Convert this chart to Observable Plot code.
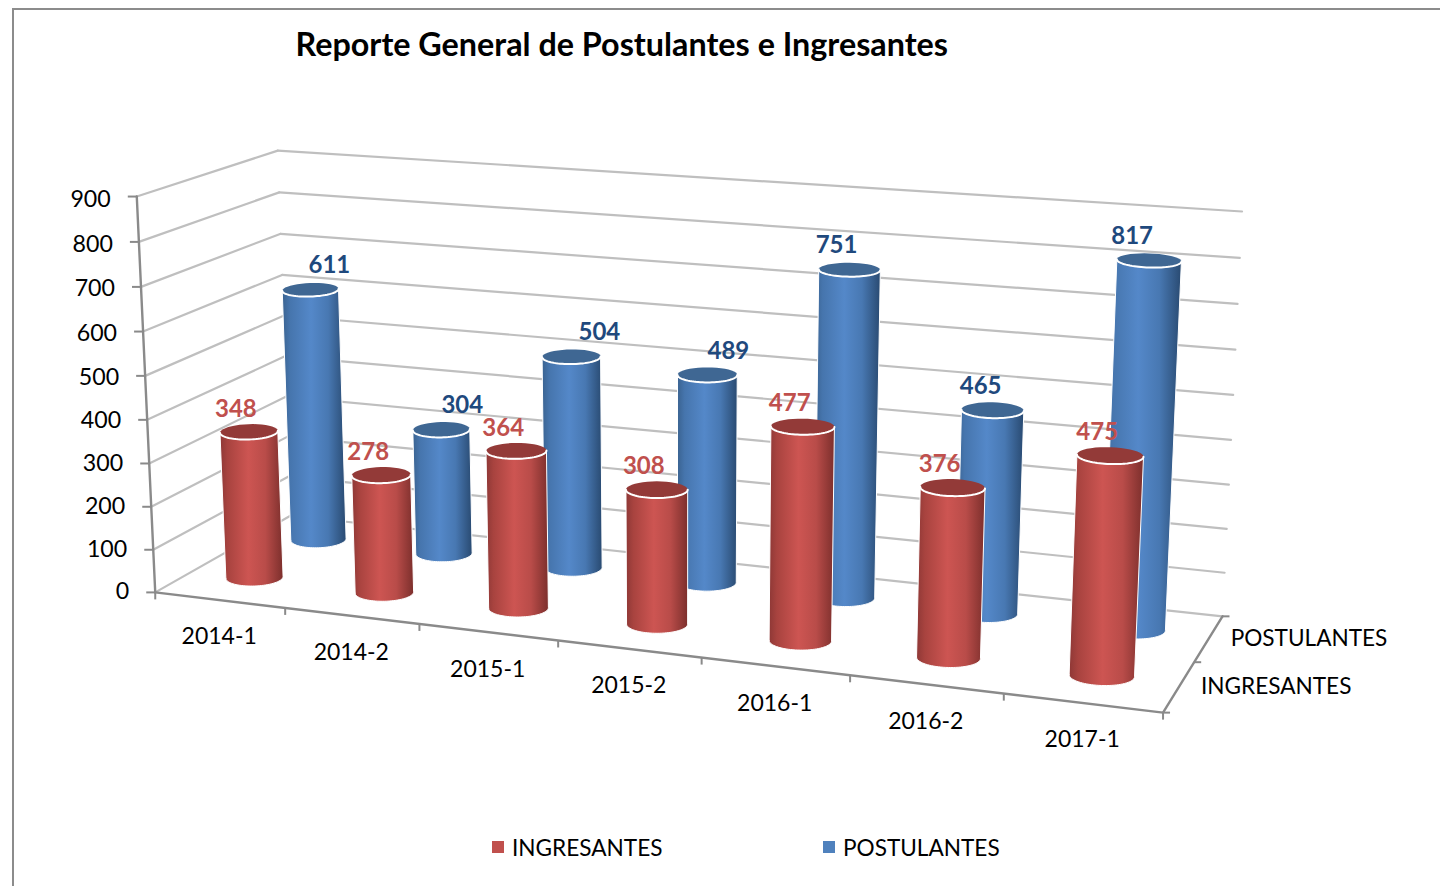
<!DOCTYPE html>
<html lang="es">
<head>
<meta charset="utf-8">
<script src="https://cdn.jsdelivr.net/npm/d3@7"></script>
<script src="https://cdn.jsdelivr.net/npm/@observablehq/plot@0.6"></script>
<style>
  html,body{margin:0;padding:0;background:#fff;overflow:hidden;width:1440px;height:886px}
  body{position:relative;font-family:Lato,"Open Sans",sans-serif;color:#000}
  #frame{position:absolute;left:12px;top:8px;width:1440px;height:900px;border:2px solid #8c8c8c;box-sizing:border-box}
  #title{position:absolute;left:295.5px;top:24px;font-size:32.3px;line-height:40px;font-weight:700;white-space:nowrap}
  #chart{position:absolute;left:0;top:90px}
  #legend{position:absolute;left:0;top:833px;width:1440px;height:30px;font-size:22.6px;line-height:30px}
  #legend span{position:absolute;white-space:nowrap}
  #legend i{position:absolute;top:8px;width:12px;height:12px}
</style>
</head>
<body>
<div id="frame"></div>
<div id="title">Reporte General de Postulantes e Ingresantes</div>
<div id="chart"></div>
<div id="legend">
  <i style="left:492px;background:#c0504d"></i><span style="left:512px">INGRESANTES</span>
  <i style="left:823px;background:#4f81bd"></i><span style="left:843px">POSTULANTES</span>
</div>
<script>
// ---- data ----
const periods = ["2014-1","2014-2","2015-1","2015-2","2016-1","2016-2","2017-1"];
const ingresantes = [348,278,364,308,477,376,475];
const postulantes = [611,304,504,489,751,465,817];
const valueTicks = [0,100,200,300,400,500,600,700,800,900];
const depthNames = ["INGRESANTES","POSTULANTES"];

// ---- camera: a projective map fitted to the chart frame (category, depth, value) -> page pixels ----
const frameFit = [
  [0,0,0,155,590],[0,0,0,155,590],[0,0,100,152.7,547],[0,0,200,150.5,505],[0,0,300,148.3,461.7],[0,0,400,146,418],
  [0,0,500,144.7,375],[0,0,600,143,331],[0,0,700,141,286.7],[0,0,800,138.7,241.7],[0,0,900,136.7,197],
  [0,1,0,291,518],[0,1,600,281.7,274],[0,1,700,280,233],[0,1,800,278,192],[0,1,900,276.7,150],
  [7,1,0,1221.7,613],[7,1,200,1226,528],[7,1,500,1233,394],[7,1,800,1239.7,258],[7,1,900,1241.7,211.7],
  [1,0,0,285,610],[2,0,0,419,626],[3,0,0,557,643],[4,0,0,700,659],[5,0,0,850,676],[6,0,0,1003,692],[7,0,0,1163,711]
];
function solve(A,b){
  const n=b.length,M=A.map((r,i)=>[...r,b[i]]);
  for(let c=0;c<n;c++){
    let p=c;for(let r=c+1;r<n;r++)if(Math.abs(M[r][c])>Math.abs(M[p][c]))p=r;
    [M[c],M[p]]=[M[p],M[c]];
    for(let r=0;r<n;r++){if(r===c)continue;const f=M[r][c]/M[c][c];for(let k=c;k<=n;k++)M[r][k]-=f*M[c][k];}
  }
  return M.map((r,i)=>r[n]/r[i]);
}
const cam=(()=>{
  const rows=[],rhs=[];
  for(const [u,w,v,X,Y] of frameFit){
    const a=u/7,c=v/900;
    rows.push([a,w,c,1,0,0,0,0,-X*a,-X*w,-X*c]);rhs.push(X);
    rows.push([0,0,0,0,a,w,c,1,-Y*a,-Y*w,-Y*c]);rhs.push(Y);
  }
  const N=rows[0].length,AtA=d3.range(N).map(i=>d3.range(N).map(j=>d3.sum(rows,r=>r[i]*r[j]))),Atb=d3.range(N).map(i=>d3.sum(rows,(r,k)=>r[i]*rhs[k]));
  return solve(AtA,Atb);
})();
function project(u,w,v){
  const a=u/7,c=v/900,d=cam[8]*a+cam[9]*w+cam[10]*c+1;
  return [(cam[0]*a+cam[1]*w+cam[2]*c+cam[3])/d,(cam[4]*a+cam[5]*w+cam[6]*c+cam[7])/d];
}
const seg=(a,b,group)=>[{x:a[0],y:a[1],group},{x:b[0],y:b[1],group}];

// ---- frame geometry from the projection ----
const grid=[];
for(const v of valueTicks){
  grid.push(...seg(project(0,0,v),project(0,1,v),"L"+v));
  grid.push(...seg(project(0,1,v),project(7,1,v),"B"+v));
}
const axes=[
  ...seg(project(0,0,0),project(0,0,900),"v"),
  ...seg(project(0,0,0),project(7,0,0),"c"),
  ...seg(project(7,0,0),project(7,1,0),"d")
];
const ticks=[];
for(const v of valueTicks){const p=project(0,0,v);ticks.push({x1:p[0]-9,y1:p[1],x2:p[0],y2:p[1]});}
for(const u of d3.range(periods.length+1)){const p=project(u,0,0);ticks.push({x1:p[0],y1:p[1],x2:p[0],y2:p[1]+7});}
for(const w of [0,.5,1]){const p=project(7,w,0);ticks.push({x1:p[0],y1:p[1],x2:p[0]+7,y2:p[1]});}

// ---- cylinders ----
const depthOf={red:.27,blue:.76};
function cylinder(cat,w,value){
  const uc=cat+.5-.022*(1-cat/6);
  const base=project(uc,w,0),top=project(uc,w,value);
  top[1]+=2;
  const scaleAt=(v)=>{const a=project(cat,w,v),b=project(cat+1,w,v);return Math.hypot(b[0]-a[0],b[1]-a[1]);};
  const tilt=-.035+.07*(cat/6);
  const ell=(c,v,from,to)=>{
    const rx=(.223-.014*cat/6)*scaleAt(v),ry=rx*(.3-.0001*v);
    return d3.range(41).map(i=>{
      const t=from+(to-from)*i/40;
      const ex=rx*Math.cos(t),ey=ry*Math.sin(t);
      return [c[0]+ex*Math.cos(tilt)-ey*Math.sin(tilt),c[1]+ex*Math.sin(tilt)+ey*Math.cos(tilt)];
    });
  };
  const body=[...ell(base,0,Math.PI,0),...ell(top,value,0,Math.PI)];
  const lid=ell(top,value,0,2*Math.PI);
  const front=ell(top,value,0,Math.PI);
  return {body,lid,front,top};
}
const toRows=(pts,group)=>pts.map(p=>({x:p[0],y:p[1],group}));
const build=(vals,w)=>{
  const cyl=vals.map((v,i)=>cylinder(i,w,v));
  return {
    tops:cyl.map(c=>c.top),
    body:cyl.flatMap((c,i)=>toRows([...c.body,c.body[0]],i)),
    lid:cyl.flatMap((c,i)=>toRows(c.lid,i)),
    front:cyl.flatMap((c,i)=>toRows(c.front,i))
  };
};
const red=build(ingresantes,depthOf.red),blue=build(postulantes,depthOf.blue);

// ---- text placed relative to the projected anchors ----
const blueShift=[19,21,28,21,-13,-12,-17];
const valueLabels=[
  ...postulantes.map((v,i)=>({x:blue.tops[i][0]+blueShift[i],y:blue.tops[i][1]-24,t:String(v),c:"#1f497d"})),
  ...ingresantes.map((v,i)=>({x:red.tops[i][0]-13,y:red.tops[i][1]-23,t:String(v),c:"#c0504d"}))
];
const valueTickLabels=valueTicks.map(v=>{const p=project(0,0,v);return {x:p[0]-26,y:p[1]-1+4*v/900,t:String(v)};});
const periodLabels=periods.map((t,i)=>{const p=project(i+.5,0,0);return {x:p[0]-.5,y:p[1]+37,t};});
const depthLabels=depthNames.map((t,i)=>{const p=project(7,[.25,.75][i],0);return {x:p[0]+22,y:p[1],t};});

const defs=()=>{
  const svg=d3.create("svg:g");
  const d=svg.append("defs");
  const grad=(id,stops)=>{
    const g=d.append("linearGradient").attr("id",id).attr("x1",0).attr("x2",1).attr("y1",0).attr("y2",0);
    stops.forEach(([o,c])=>g.append("stop").attr("offset",o).attr("stop-color",c));
  };
  grad("cylRed",[[0,"#8e3836"],[.12,"#a8433f"],[.45,"#cd5552"],[.72,"#b94c49"],[1,"#7c2f2c"]]);
  grad("cylBlue",[[0,"#3a6391"],[.12,"#4675ad"],[.45,"#5488c9"],[.72,"#4878b2"],[1,"#294a71"]]);
  return svg.node();
};

const font="Lato, 'Open Sans', sans-serif";
const chart=Plot.plot({
  width:1440,height:740,margin:0,
  x:{domain:[0,1440],range:[0,1440],axis:null},
  y:{domain:[90,830],range:[0,740],axis:null},
  marks:[
    defs,
    Plot.line(grid,{x:"x",y:"y",z:"group",stroke:"#bfbfbf",strokeWidth:2.2}),
    Plot.line(axes,{x:"x",y:"y",z:"group",stroke:"#8a8a8a",strokeWidth:2.4}),
    Plot.link(ticks,{x1:"x1",y1:"y1",x2:"x2",y2:"y2",stroke:"#8a8a8a",strokeWidth:2}),
    Plot.line(blue.body,{x:"x",y:"y",z:"group",fill:"url(#cylBlue)",stroke:"#ffffff",strokeWidth:1}),
    Plot.line(blue.lid,{x:"x",y:"y",z:"group",fill:"#3f6793",stroke:"none"}),
    Plot.line(blue.front,{x:"x",y:"y",z:"group",stroke:"#ffffff",strokeWidth:2}),
    Plot.line(red.body,{x:"x",y:"y",z:"group",fill:"url(#cylRed)",stroke:"#ffffff",strokeWidth:1}),
    Plot.line(red.lid,{x:"x",y:"y",z:"group",fill:"#933a38",stroke:"none"}),
    Plot.line(red.front,{x:"x",y:"y",z:"group",stroke:"#ffffff",strokeWidth:2}),
    Plot.text(valueTickLabels,{x:"x",y:"y",text:"t",textAnchor:"end",fontSize:23.2,fontFamily:font,fill:"#000"}),
    Plot.text(periodLabels,{x:"x",y:"y",text:"t",fontSize:23,fontFamily:font,fill:"#000"}),
    Plot.text(depthLabels,{x:"x",y:"y",text:"t",textAnchor:"start",fontSize:22.6,fontFamily:font,fill:"#000"}),
    Plot.text(valueLabels,{x:"x",y:"y",text:"t",fontSize:24,fontWeight:700,fontFamily:font,fill:"c"})
  ]
});
document.getElementById("chart").append(chart);
</script>
</body>
</html>
